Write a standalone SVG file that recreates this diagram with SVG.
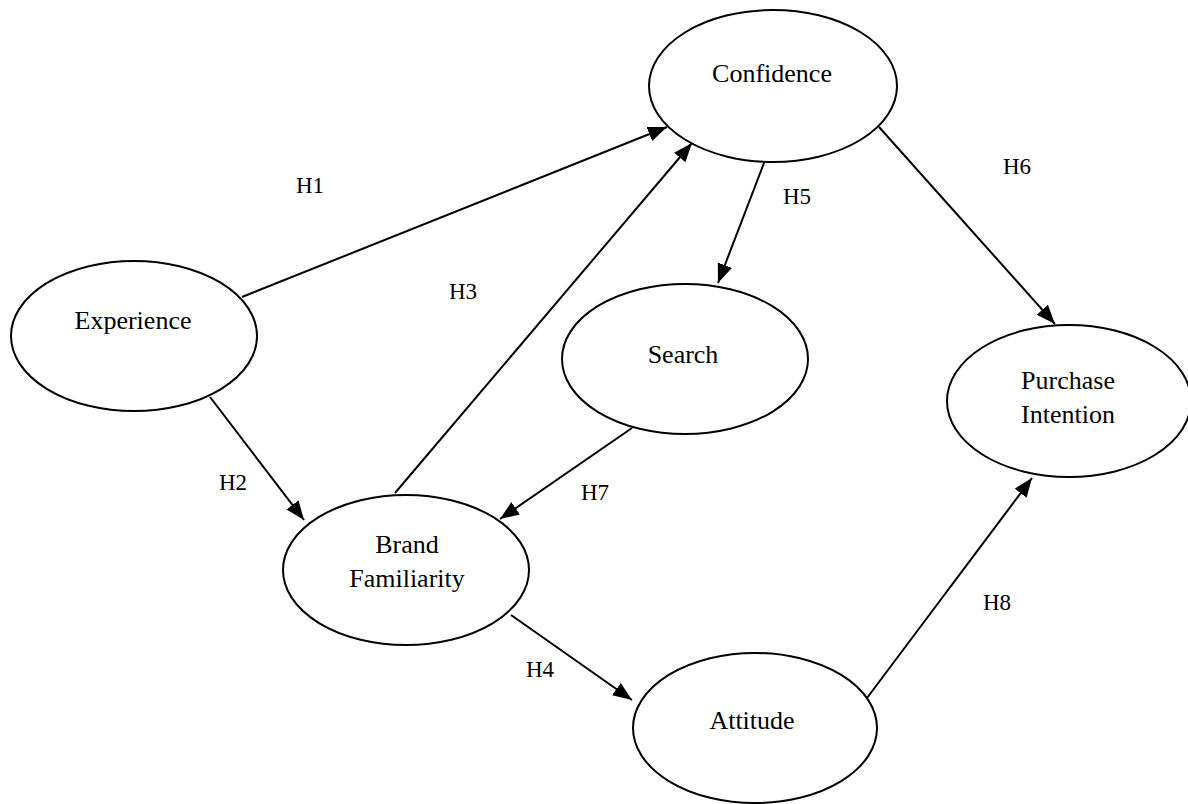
<svg xmlns="http://www.w3.org/2000/svg" width="1188" height="804" viewBox="0 0 1188 804">
  <style>
    .node ellipse { fill: #ffffff; stroke: #000000; stroke-width: 2; }
    .node text { font-family: "Liberation Serif", "Times New Roman", serif; font-size: 26px; fill: #000000; text-anchor: middle; }
    .edge { stroke: #000000; stroke-width: 2; fill: none; marker-end: url(#arrow); }
    .lbl { font-family: "Liberation Serif", "Times New Roman", serif; font-size: 23px; fill: #000000; text-anchor: middle; }
  </style>
  <defs>
    <marker id="arrow" markerUnits="userSpaceOnUse" markerWidth="20" markerHeight="16" refX="19" refY="7.5" orient="auto">
      <path d="M0,0 L19,7.5 L0,15 z" fill="#000000"/>
    </marker>
  </defs>
  <rect width="1188" height="804" fill="#ffffff"/>

  <!-- connectors -->
  <g id="connectors">
    <line class="edge" x1="242" y1="297" x2="667" y2="127"/>
    <line class="edge" x1="210" y1="397" x2="304" y2="520"/>
    <line class="edge" x1="395" y1="493" x2="692" y2="143"/>
    <line class="edge" x1="511" y1="615" x2="632" y2="700"/>
    <line class="edge" x1="764" y1="163" x2="718" y2="283"/>
    <line class="edge" x1="879" y1="127" x2="1055" y2="324"/>
    <line class="edge" x1="632" y1="428" x2="500" y2="519"/>
    <line class="edge" x1="867" y1="698" x2="1032" y2="478"/>
    <text class="lbl" x="310" y="193">H1</text>
    <text class="lbl" x="233" y="490">H2</text>
    <text class="lbl" x="463" y="299">H3</text>
    <text class="lbl" x="540" y="677">H4</text>
    <text class="lbl" x="797" y="204">H5</text>
    <text class="lbl" x="1017" y="174">H6</text>
    <text class="lbl" x="595" y="500">H7</text>
    <text class="lbl" x="997" y="610">H8</text>
  </g>

  <g id="confidence" class="node">
    <ellipse cx="773" cy="86" rx="124" ry="76"/>
    <text x="772" y="82">Confidence</text>
  </g>
  <g id="experience" class="node">
    <ellipse cx="134" cy="336" rx="123" ry="75"/>
    <text x="133" y="329">Experience</text>
  </g>
  <g id="search" class="node">
    <ellipse cx="685" cy="359" rx="123" ry="75"/>
    <text x="683" y="363">Search</text>
  </g>
  <g id="purchase-intention" class="node">
    <ellipse cx="1069" cy="401" rx="122" ry="76"/>
    <text x="1068" y="389">Purchase</text>
    <text x="1068" y="423">Intention</text>
  </g>
  <g id="brand-familiarity" class="node">
    <ellipse cx="406" cy="570" rx="123" ry="75"/>
    <text x="407" y="553">Brand</text>
    <text x="407" y="587">Familiarity</text>
  </g>
  <g id="attitude" class="node">
    <ellipse cx="755" cy="728" rx="122" ry="75"/>
    <text x="752" y="729">Attitude</text>
  </g>
</svg>
